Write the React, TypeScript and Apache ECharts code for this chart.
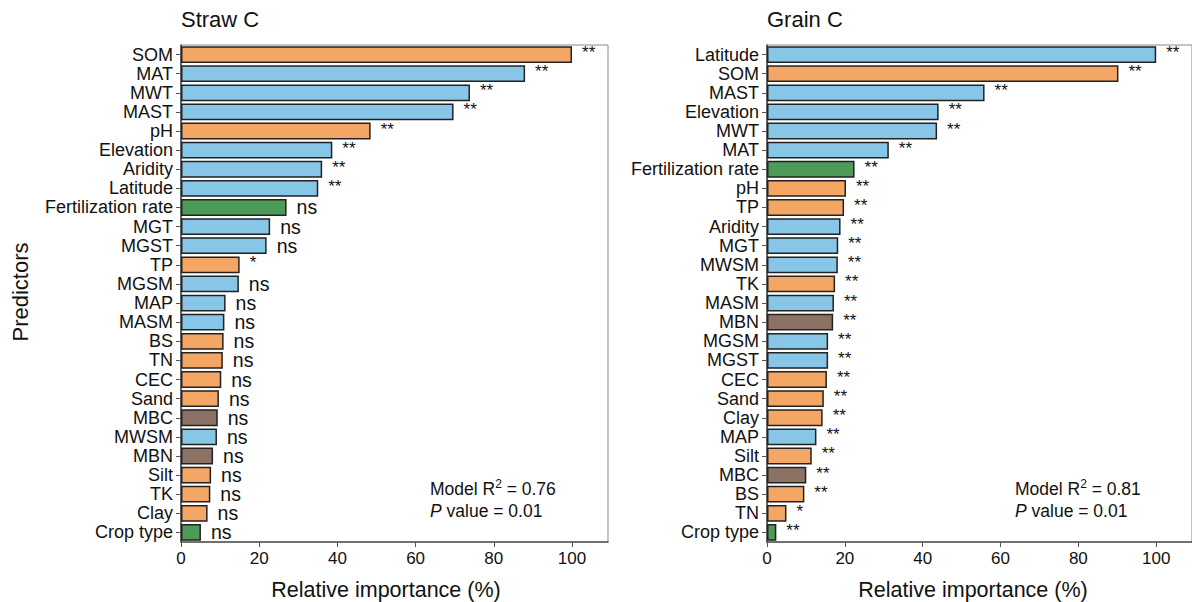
import React, { useEffect, useRef } from "react";
import * as echarts from "echarts";

// ---------- Data ----------
const strawNames = ["SOM", "MAT", "MWT", "MAST", "pH", "Elevation", "Aridity", "Latitude", "Fertilization rate", "MGT", "MGST", "TP", "MGSM", "MAP", "MASM", "BS", "TN", "CEC", "Sand", "MBC", "MWSM", "MBN", "Silt", "TK", "Clay", "Crop type"];
const strawValues = [100, 88.0, 73.9, 69.7, 48.5, 38.7, 36.1, 35.1, 27.0, 22.8, 21.9, 15.0, 14.8, 11.4, 11.1, 10.9, 10.7, 10.3, 9.7, 9.4, 9.2, 8.2, 7.7, 7.5, 6.8, 5.1];
const strawSig = ["**", "**", "**", "**", "**", "**", "**", "**", "ns", "ns", "ns", "*", "ns", "ns", "ns", "ns", "ns", "ns", "ns", "ns", "ns", "ns", "ns", "ns", "ns", "ns"];
const strawGroup = ["soil", "climate", "climate", "climate", "soil", "climate", "climate", "climate", "mgmt", "climate", "climate", "soil", "climate", "climate", "climate", "soil", "soil", "soil", "soil", "microbe", "climate", "microbe", "soil", "soil", "soil", "mgmt"];

const grainNames = ["Latitude", "SOM", "MAST", "Elevation", "MWT", "MAT", "Fertilization rate", "pH", "TP", "Aridity", "MGT", "MWSM", "TK", "MASM", "MBN", "MGSM", "MGST", "CEC", "Sand", "Clay", "MAP", "Silt", "MBC", "BS", "TN", "Crop type"];
const grainValues = [100, 90.3, 55.9, 44.1, 43.7, 31.3, 22.5, 20.3, 19.8, 18.9, 18.3, 18.2, 17.5, 17.2, 17.0, 15.7, 15.7, 15.4, 14.6, 14.3, 12.7, 11.5, 10.1, 9.6, 5.0, 2.4];
const grainSig = ["**", "**", "**", "**", "**", "**", "**", "**", "**", "**", "**", "**", "**", "**", "**", "**", "**", "**", "**", "**", "**", "**", "**", "**", "*", "**"];
const grainGroup = ["climate", "soil", "climate", "climate", "climate", "climate", "mgmt", "soil", "soil", "climate", "climate", "climate", "soil", "climate", "microbe", "climate", "climate", "soil", "soil", "soil", "climate", "soil", "microbe", "soil", "soil", "mgmt"];

const xTicks = [0, 20, 40, 60, 80, 100];

const groupColors: Record<string, string> = {
  climate: "#87C6E6",
  soil: "#F4A664",
  mgmt: "#4E9A58",
  microbe: "#8C7265",
};

const FONT = "Liberation Sans, Arial, sans-serif";

function makeSeries(values: number[], sig: string[], group: string[], idx: number) {
  return {
    type: "bar",
    xAxisIndex: idx,
    yAxisIndex: idx,
    barCategoryGap: "12%",
    data: values.map((v, i) => ({
      value: v,
      itemStyle: { color: groupColors[group[i]] },
    })),
    itemStyle: { borderColor: "#222", borderWidth: 1.5 },
    label: {
      show: true,
      position: "right",
      distance: 10,
      formatter: (p: any) => (sig[p.dataIndex] === "ns" ? "{n|ns}" : "{s|" + sig[p.dataIndex] + "}"),
      rich: {
        n: { fontSize: 19.5, lineHeight: 17, fontFamily: FONT, color: "#111" },
        s: { fontSize: 17, lineHeight: 15, fontFamily: FONT, color: "#111", padding: [0, 0, 4, 0] },
      },
    },
  };
}

function xAxisCfg(idx: number) {
  return {
    type: "value",
    gridIndex: idx,
    min: 0,
    max: 109.2,
    interval: 20,
    axisLine: { show: true, lineStyle: { color: "#555", width: 1.5 } },
    axisTick: { show: true, length: 5, lineStyle: { color: "#555" } },
    axisLabel: {
      fontSize: 17,
      fontFamily: FONT,
      color: "#111",
      margin: 8,
      showMaxLabel: false,
      formatter: (v: number) => (xTicks.indexOf(v) >= 0 ? String(v) : ""),
    },
    splitLine: { show: false },
  };
}

function yAxisCfg(idx: number, names: string[]) {
  return {
    type: "category",
    gridIndex: idx,
    data: names,
    inverse: true,
    axisLine: { show: true, lineStyle: { color: "#444", width: 1.5 } },
    axisTick: { show: true, length: 5, alignWithLabel: true, lineStyle: { color: "#555" } },
    axisLabel: { fontSize: 18, lineHeight: 18, fontFamily: FONT, color: "#111", margin: 8, interval: 0 },
  };
}

const annRich = {
  sup: { fontSize: 12, fontFamily: FONT, fill: "#111", verticalAlign: "top", padding: [0, 0, 8, 0] },
  i: { fontSize: 17.5, fontFamily: FONT, fill: "#111", fontStyle: "italic" },
};

export default function App() {
  const ref = useRef<HTMLDivElement>(null);
  useEffect(() => {
    document.body.style.margin = "0";
    const chart = echarts.init(ref.current!, null, { renderer: "svg" });
    chart.setOption({
      animation: false,
      backgroundColor: "#fff",
      grid: [
        { left: 181, top: 45, width: 427, height: 497, show: true, borderColor: "#888", borderWidth: 1, backgroundColor: "transparent" },
        { left: 767, top: 45, width: 427, height: 497, show: true, borderColor: "#888", borderWidth: 1, backgroundColor: "transparent" },
      ],
      xAxis: [xAxisCfg(0), xAxisCfg(1)],
      yAxis: [yAxisCfg(0, strawNames), yAxisCfg(1, grainNames)],
      series: [
        makeSeries(strawValues, strawSig, strawGroup, 0),
        makeSeries(grainValues, grainSig, grainGroup, 1),
      ],
      graphic: [
        { type: "text", left: 181, top: 8, style: { text: "Straw C", fontSize: 22, fontFamily: FONT, fill: "#111" } },
        { type: "text", left: 767, top: 8, style: { text: "Grain C", fontSize: 22, fontFamily: FONT, fill: "#111" } },
        { type: "text", x: 386, y: 590, style: { text: "Relative importance (%)", fontSize: 21.5, fontFamily: FONT, fill: "#111", align: "center", verticalAlign: "middle" } },
        { type: "text", x: 973, y: 590, style: { text: "Relative importance (%)", fontSize: 21.5, fontFamily: FONT, fill: "#111", align: "center", verticalAlign: "middle" } },
        { type: "text", x: 20, y: 292, rotation: Math.PI / 2, style: { text: "Predictors", fontSize: 22, fontFamily: FONT, fill: "#111", align: "center", verticalAlign: "middle" } },
        {
          type: "text", x: 430, y: 478,
          style: {
            text: "Model R{sup|2} = 0.76\n{i|P} value = 0.01",
            fontSize: 17.5, fontFamily: FONT, fill: "#111", lineHeight: 22,
            rich: annRich,
          },
        },
        {
          type: "text", x: 1015, y: 478,
          style: {
            text: "Model R{sup|2} = 0.81\n{i|P} value = 0.01",
            fontSize: 17.5, fontFamily: FONT, fill: "#111", lineHeight: 22,
            rich: annRich,
          },
        },
      ],
    });
    return () => chart.dispose();
  }, []);
  return <div ref={ref} style={{ width: 1192, height: 602 }} />;
}
